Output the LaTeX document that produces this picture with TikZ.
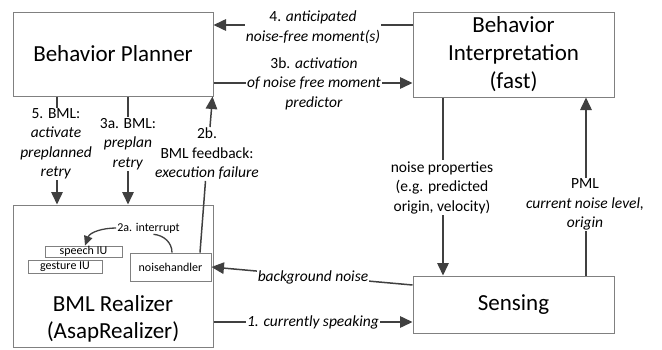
\documentclass[tikz,border=0pt]{standalone}
\usepackage{fontspec}
\setmainfont{Carlito}
\usetikzlibrary{arrows.meta,calc}
\definecolor{linegray}{HTML}{404040}
\definecolor{boxgray}{HTML}{808080}
\tikzset{
  box/.style={draw=boxgray, line width=1pt, inner sep=0pt, align=center,
    font=\fontsize{23}{28}\selectfont},
  subbox/.style={draw=boxgray, line width=0.9pt, inner sep=0pt,
    font=\fontsize{12}{14}\selectfont},
  lbl/.style={fill=white, inner sep=1pt, align=center,
    font=\fontsize{15.5}{19.5}\selectfont},
  plainlbl/.style={inner sep=1pt, align=center,
    font=\fontsize{15.5}{19.5}\selectfont},
  conn/.style={draw=linegray, line width=1.5pt},
  arr/.style={conn, -{Triangle[length=12.5pt,width=11.5pt]}},
  thinconn/.style={draw=linegray, line width=1.3pt},
  smallarr/.style={thinconn, -{Triangle[length=9.5pt,width=8.5pt]}},
}
\begin{document}
\begin{tikzpicture}[x=1pt,y=-1pt]
\useasboundingbox (0,0) rectangle (662,349);

% main components
\node[box, minimum width=200pt, minimum height=84pt] (planner) at (113,54) {Behavior Planner};
\node[box, minimum width=201pt, minimum height=85pt] (interp) at (513.5,54.5)
  {Behavior\\Interpretation\\(fast)};
\node[box, minimum width=201pt, minimum height=57pt] (sensing) at (513.5,304.5) {Sensing};
\node[box, minimum width=200pt, minimum height=142pt] (realizer) at (113,276) {};
\node[align=center, inner sep=0pt, font=\fontsize{23}{27}\selectfont] (realizertext) at (113,318.5)
  {BML Realizer\\(AsapRealizer)};

% parts inside the realizer
\node[subbox, minimum width=77pt, minimum height=11pt] (speechiu) at (83.5,251.5) {speech IU};
\node[subbox, minimum width=74pt, minimum height=13pt] (gestureiu) at (65,266.5) {gesture IU};
\node[subbox, minimum width=81pt, minimum height=28pt] (noisehandler) at (170.5,267) {noisehandler};
\node[inner sep=1pt, font=\fontsize{12}{14}\selectfont] (intlbl) at (148.5,228) {2a. interrupt};

% interrupt: noisehandler -> speech IU
\draw[thinconn] ([xshift=1.5pt]noisehandler.north) to[out=90,in=-5] ([xshift=5pt]intlbl.south);
\draw[smallarr] (intlbl.west) to[out=180,in=70] ([xshift=1.5pt]speechiu.north);

% connectors between the components
\draw[arr] ([yshift=29.5pt]interp.west) -- ([yshift=29.5pt]interp.west -| planner.east);
\draw[arr] ([yshift=-28.5pt]interp.west -| planner.east) -- ([yshift=-28.5pt]interp.west);
\draw[arr] ([xshift=-56pt]planner.south) -- ([xshift=-56pt]planner.south |- realizer.north);
\draw[arr] ([xshift=15pt]planner.south) -- ([xshift=15pt]planner.south |- realizer.north);
\draw[arr] ([xshift=-70.5pt]interp.south) -- ([xshift=-70.5pt]interp.south |- sensing.north);
\draw[arr] ([xshift=72.5pt]sensing.north) -- ([xshift=72.5pt]sensing.north |- interp.south);
\draw[arr] ([yshift=19.5pt]sensing.west) -- (noisehandler.east);
\draw[arr] ([yshift=-46pt]realizer.east) -- ([yshift=-46pt]realizer.east -| sensing.west);

% connector labels
\node[lbl] (lbl4) at (313,27) {4. \textit{anticipated}\\\textit{noise-free moment(s)}};
\node[lbl] (lbl3b) at (314,83.5) {3b. \textit{activation}\\\textit{of noise free moment}\\\textit{predictor}};
\node[lbl] (lbl5) at (56,144) {5. BML:\\\textit{activate}\\\textit{preplanned}\\\textit{retry}};
\node[lbl] (lbl3a) at (128,144) {3a. BML:\\\textit{preplan}\\\textit{retry}};
\node[lbl] (lblnp) at (442,187.5) {noise properties\\(e.g. predicted\\origin, velocity)};
\node[lbl] (lblpml) at (585,204.5) {PML\\\textit{current noise level,}\\\textit{origin}};
\node[lbl] (lblbg) at (313,277) {\textit{background noise}};
\node[lbl] (lbl1) at (313,322) {\textit{1. currently speaking}};

% execution failure feedback: noisehandler -> planner
\node[plainlbl] (lbl2b) at (207,154) {2b.\\BML feedback:\\\textit{execution failure}};
\draw[conn] ([xshift=29.5pt]noisehandler.north) -- ([xshift=-1.5pt]lbl2b.south);
\draw[arr] ([xshift=3pt]lbl2b.north) -- ([xshift=-1pt]planner.south east);
\end{tikzpicture}
\end{document}
